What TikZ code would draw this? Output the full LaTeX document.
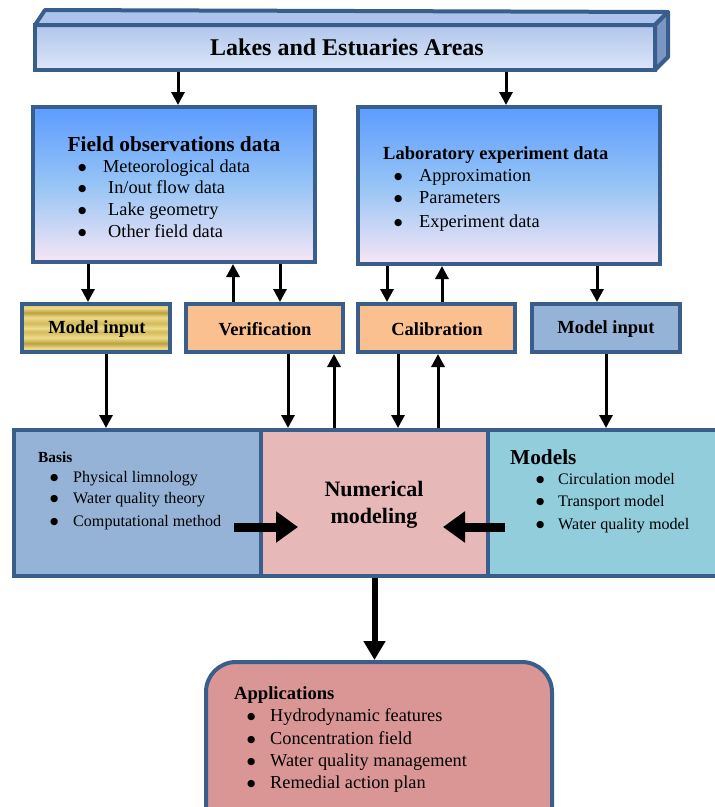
\documentclass[tikz,border=0pt]{standalone}
\usepackage{fontspec}
\setmainfont{Liberation Serif}
\newfontfamily\dotfont{DejaVu Sans}
\usetikzlibrary{arrows.meta}

\definecolor{edge}{RGB}{58,94,140}
\definecolor{barfront}{RGB}{176,198,236}
\definecolor{barfrontlow}{RGB}{220,230,247}
\definecolor{bartop}{RGB}{172,196,236}
\definecolor{barside}{RGB}{124,150,196}
\definecolor{skytop}{RGB}{92,156,255}
\definecolor{skymid}{RGB}{150,196,245}
\definecolor{skylow}{RGB}{246,230,245}
\definecolor{peach}{RGB}{250,192,144}
\definecolor{steel}{RGB}{149,179,215}
\definecolor{rose}{RGB}{230,185,184}
\definecolor{aqua}{RGB}{146,205,220}
\definecolor{brick}{RGB}{217,150,148}
\definecolor{gA}{RGB}{236,220,140}
\definecolor{gB}{RGB}{212,186,90}
\definecolor{gC}{RGB}{190,160,60}

% striped gold fill for the first input box
\pgfdeclareverticalshading{goldbar}{100bp}{color(0bp)=(gB); color(25bp)=(gB);
  color(29bp)=(gA); color(34bp)=(gC); color(40bp)=(gA); color(46bp)=(gB);
  color(50bp)=(gA); color(55bp)=(gB); color(61bp)=(gA); color(66bp)=(gC);
  color(71bp)=(gA); color(75bp)=(gB); color(100bp)=(gB)}

% bullet line: a round bullet in a box of given width, then the text
\newcommand\bigdot{\raisebox{1.3pt}{\dotfont\fontsize{9.5}{10}\selectfont ●}}
\newcommand\bitem[2]{\makebox[#1][l]{\bigdot}#2}

\begin{document}
\begin{tikzpicture}[x=1pt,y=-1pt,
  box/.style={draw=edge, line width=4pt, inner sep=0pt},
  skybox/.style={box, top color=skytop, bottom color=skylow, middle color=skymid},
  lbl/.style={font=\bfseries\fontsize{18.5}{22}\selectfont},
  item/.style={anchor=base west, inner sep=0pt, font=\fontsize{18.3}{22}\selectfont},
  smallitem/.style={anchor=base west, inner sep=0pt, font=\fontsize{16.1}{21}\selectfont},
  arr/.style={line width=3pt, -{Triangle[length=13pt,width=13pt]}},
  fat/.style={line width=9pt, -{Triangle[length=22pt,width=30pt]}},
  bigarr/.style={line width=6pt, -{Triangle[length=19pt,width=21pt]}}]
\useasboundingbox (0,0) rectangle (715,807);
\clip (0,0) rectangle (715,807);

% ---- top bar (3D slab) ----
\node[box, minimum width=620pt, minimum height=45pt,
      top color=barfront, bottom color=barfrontlow] (lakes) at (345,47.5) {};
\draw[edge, line width=4pt, line join=round, fill=bartop]
  (lakes.north west) ++(2,2) -- ++(10,-15) -- (668,12) -- ([shift={(-2,2)}]lakes.north east) -- cycle;
\draw[edge, line width=4pt, line join=round, fill=barside]
  ([shift={(-2,2)}]lakes.north east) -- (668,12) -- (668,57) -- ([shift={(-2,-2)}]lakes.south east) -- cycle;
\node[font=\bfseries\fontsize{24}{28}\selectfont] (lakest) at (347,47) {Lakes and Estuaries Areas};

% ---- data boxes ----
\node[skybox, minimum width=282pt, minimum height=155pt] (obs) at (174,184.5) {};
\node[anchor=base, font=\bfseries\fontsize{21.4}{25}\selectfont] (obst) at (174,151) {Field observations data};
\node[item] (obsl) at (78,172) {\begin{tabular}[t]{@{}l@{}}
  \bitem{25pt}{Meteorological data}\\[-1pt]
  \bitem{30pt}{In/out flow data}\\
  \bitem{30pt}{Lake geometry}\\
  \bitem{30pt}{Other field data}\end{tabular}};

\node[skybox, minimum width=302pt, minimum height=157pt] (lab) at (509,185.5) {};
\node[anchor=base west, inner sep=0pt, font=\bfseries\fontsize{18.5}{22}\selectfont] (labt) at (383,159) {Laboratory experiment data};
\node[item] (labl) at (394,181) {\begin{tabular}[t]{@{}l@{}}
  \bitem{25pt}{Approximation}\\
  \bitem{25pt}{Parameters}\\[2pt]
  \bitem{25pt}{Experiment data}\end{tabular}};

% ---- second row ----
\node[box, minimum width=148pt, minimum height=48pt, shading=goldbar] (mia) at (96,328) {};
\node[lbl] (miat) at (97,329) {Model input};
\node[box, fill=peach, minimum width=157pt, minimum height=48pt] (ver) at (264.5,328) {};
\node[lbl] (vert) at (265,329) {Verification};
\node[box, fill=peach, minimum width=157pt, minimum height=48pt] (cal) at (436.5,328) {};
\node[lbl] (calt) at (437,329) {Calibration};
\node[box, fill=steel, minimum width=148pt, minimum height=48pt] (mib) at (606,328) {};
\node[lbl] (mibt) at (606,329) {Model input};

% ---- modelling band ----
\node[box, fill=steel, minimum width=247pt, minimum height=146pt] (basis) at (137.5,503) {};
\node[box, fill=aqua, minimum width=252pt, minimum height=146pt] (models) at (614,503) {};
\node[box, fill=rose, minimum width=227pt, minimum height=146pt] (num) at (374.5,503) {};

\node[anchor=base west, inner sep=0pt, font=\bfseries\fontsize{15.4}{18}\selectfont] (basist) at (38,462) {Basis};
\node[smallitem] (basl) at (50,482) {\begin{tabular}[t]{@{}l@{}}
  \bitem{23pt}{Physical limnology}\\
  \bitem{23pt}{Water quality theory}\\[2pt]
  \bitem{23pt}{Computational method}\end{tabular}};

\node[align=center, font=\bfseries\fontsize{22}{27}\selectfont] (numt) at (374,505) {Numerical\\modeling};

\node[anchor=base west, inner sep=0pt, font=\bfseries\fontsize{21.3}{25}\selectfont] (modelst) at (510,464) {Models};
\node[smallitem, font=\fontsize{16.1}{22}\selectfont] (modl) at (536,484) {\begin{tabular}[t]{@{}l@{}}
  \bitem{22pt}{Circulation model}\\
  \bitem{22pt}{Transport model}\\[1pt]
  \bitem{22pt}{Water quality model}\end{tabular}};

% ---- applications ----
\node[box, fill=brick, rounded corners=30pt, minimum width=346pt, minimum height=178pt] (apps) at (379,751) {};
\node[anchor=base west, inner sep=0pt, font=\bfseries\fontsize{18.6}{22}\selectfont] (appst) at (234,699) {Applications};
\node[item] (appl) at (247,721) {\begin{tabular}[t]{@{}l@{}}
  \bitem{23pt}{Hydrodynamic features}\\[1pt]
  \bitem{23pt}{Concentration field}\\
  \bitem{23pt}{Water quality management}\\
  \bitem{23pt}{Remedial action plan}\end{tabular}};

% ---- connectors ----
\draw[arr] (lakes.south -| 178,0) -- (obs.north -| 178,0);
\draw[arr] (lakes.south -| 506,0) -- (lab.north -| 506,0);

\draw[arr] (obs.south -| 88,0) -- (mia.north -| 88,0);
\draw[arr] (ver.north -| 233,0) -- (obs.south -| 233,0);
\draw[arr] (obs.south -| 280,0) -- (ver.north -| 280,0);
\draw[arr] (lab.south -| 387,0) -- (cal.north -| 387,0);
\draw[arr] (cal.north -| 442,0) -- (lab.south -| 442,0);
\draw[arr] (lab.south -| 597,0) -- (mib.north -| 597,0);

\draw[arr] (mia.south -| 106,0) -- (basis.north -| 106,0);
\draw[arr] (ver.south -| 288,0) -- (num.north -| 288,0);
\draw[arr] (num.north -| 334,0) -- (ver.south -| 334,0);
\draw[arr] (cal.south -| 398,0) -- (num.north -| 398,0);
\draw[arr] (num.north -| 438,0) -- (cal.south -| 438,0);
\draw[arr] (mib.south -| 606,0) -- (models.north -| 606,0);

% thick arrows into the central box
\coordinate (fatL) at (234,527);
\coordinate (fatR) at (505,527);
\draw[fat] (fatL) -- (298,527);
\draw[fat] (fatR) -- (443,527);

\draw[bigarr] (num.south) -- (num.south |- apps.north);
\end{tikzpicture}
\end{document}
